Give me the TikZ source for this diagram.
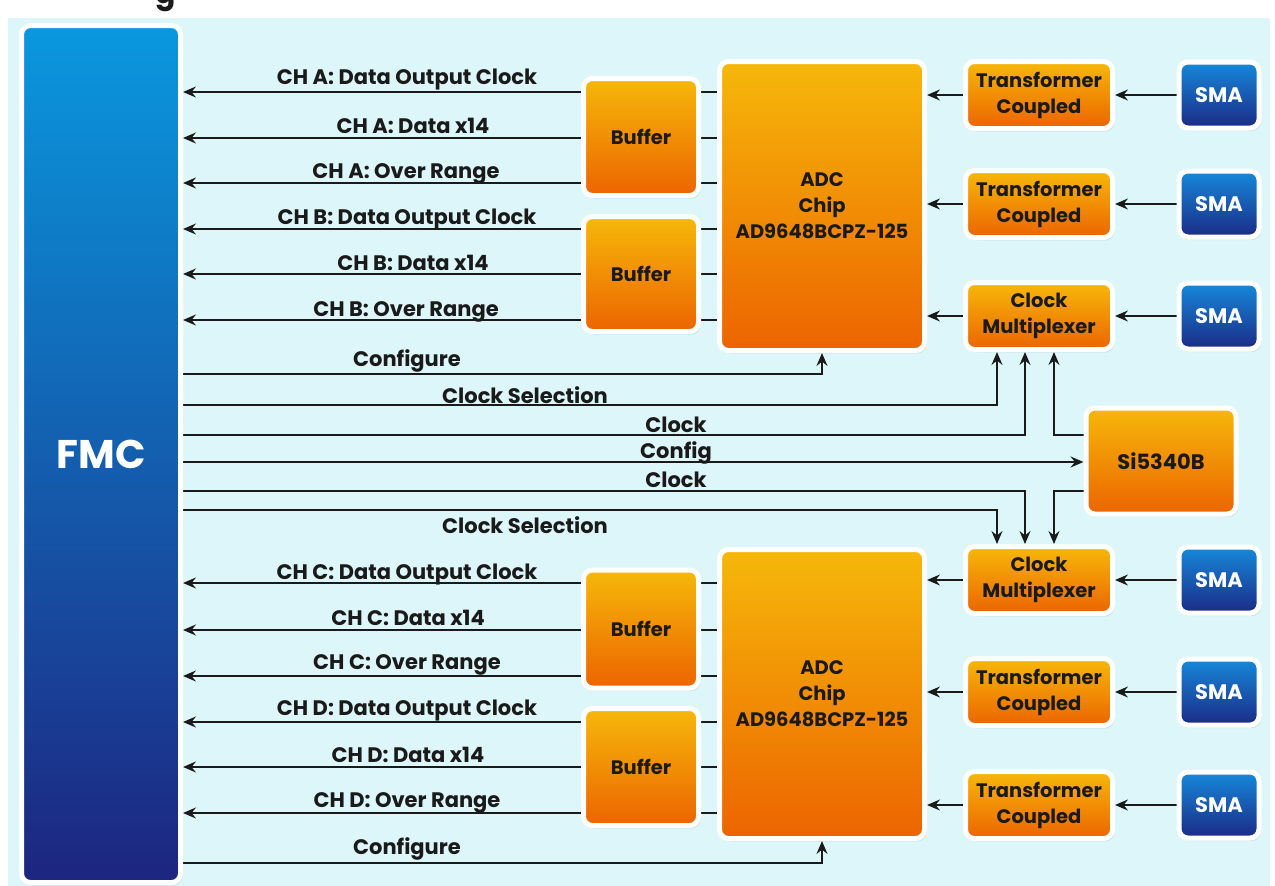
\documentclass[tikz,border=0pt]{standalone}
\usepackage{fontspec}
\setmainfont{Poppins}
\usetikzlibrary{arrows.meta,shadows}
\pgfdeclarelayer{bg}
\pgfdeclarelayer{lines}
\pgfsetlayers{bg,lines,main}

\definecolor{bgc}{HTML}{DDF6FA}
\definecolor{otop}{HTML}{F6B80A}
\definecolor{obot}{HTML}{EC6400}
\definecolor{btop}{HTML}{1689DA}
\definecolor{bbot}{HTML}{1B2A86}
\definecolor{ftop}{HTML}{0A98DE}
\definecolor{fbot}{HTML}{1D2580}
\definecolor{ink}{HTML}{1A1A1A}

\tikzset{
 box/.style={draw=white, line width=5pt, rounded corners=9pt, outer sep=2.5pt, inner sep=1pt,
   align=center, font=\bfseries\fontsize{19.5}{26}\selectfont, text=ink,
   drop shadow={opacity=0.15, shadow xshift=2pt, shadow yshift=-3pt}},
 obox/.style={box, top color=otop, bottom color=obot},
 sbox/.style={box, top color=btop, bottom color=bbot, text=white, font=\bfseries\fontsize{21}{26}\selectfont},
 conn/.style={draw=ink, line width=1.8pt},
 arr/.style={conn, -{Stealth[length=13pt,width=11pt,inset=4.5pt]}},
 lab/.style={font=\bfseries\fontsize{21}{24}\selectfont, text=ink, inner sep=0pt, anchor=base},
}

\begin{document}
\begin{tikzpicture}[x=1pt,y=-1pt]
\useasboundingbox (0,0) rectangle (1275,886);
\begin{pgfonlayer}{bg}
\fill[bgc] (8,18) rectangle (1270,886);
\end{pgfonlayer}
\begin{scope}
\clip (0,0) rectangle (1275,14);
\node[font=\bfseries\fontsize{30}{30}\selectfont, anchor=base, text=ink, inner sep=0pt] (gfrag) at (166,3) {g};
\end{scope}

% FMC
\node[box, top color=ftop, bottom color=fbot, text=white, minimum width=159pt, minimum height=857pt,
  font=\bfseries\fontsize{40}{44}\selectfont] (fmc) at (101,454) {FMC};

% upper half
\node[obox, minimum width=115pt, minimum height=117pt] (bufA) at (641,137) {Buffer};
\node[obox, minimum width=115pt, minimum height=115pt] (bufB) at (641,274) {Buffer};
\node[obox, minimum width=205pt, minimum height=289pt] (adc1) at (822,206) {ADC\\Chip\\AD9648BCPZ-125};
\node[obox, minimum width=147pt, minimum height=67pt] (tr1) at (1039,95) {Transformer\\Coupled};
\node[obox, minimum width=147pt, minimum height=67pt] (tr2) at (1039,204) {Transformer\\Coupled};
\node[obox, minimum width=147pt, minimum height=67pt] (mux1) at (1039,316) {Clock\\Multiplexer};
\node[sbox, minimum width=80pt, minimum height=66pt] (sma1) at (1219,95) {SMA};
\node[sbox, minimum width=80pt, minimum height=66pt] (sma2) at (1219,204) {SMA};
\node[sbox, minimum width=80pt, minimum height=66pt] (sma3) at (1219,316) {SMA};
\node[obox, minimum width=150pt, minimum height=106pt, font=\bfseries\fontsize{21}{26}\selectfont] (si) at (1161,461) {Si5340B};

% lower half
\node[obox, minimum width=147pt, minimum height=67pt] (mux2) at (1039,580) {Clock\\Multiplexer};
\node[obox, minimum width=147pt, minimum height=67pt] (tr3) at (1039,692) {Transformer\\Coupled};
\node[obox, minimum width=147pt, minimum height=67pt] (tr4) at (1039,805) {Transformer\\Coupled};
\node[sbox, minimum width=80pt, minimum height=66pt] (sma4) at (1219,580) {SMA};
\node[sbox, minimum width=80pt, minimum height=66pt] (sma5) at (1219,692) {SMA};
\node[sbox, minimum width=80pt, minimum height=66pt] (sma6) at (1219,805) {SMA};
\node[obox, minimum width=115pt, minimum height=118pt] (bufC) at (641,629) {Buffer};
\node[obox, minimum width=115pt, minimum height=117pt] (bufD) at (641,767) {Buffer};
\node[obox, minimum width=205pt, minimum height=289pt] (adc2) at (822,694) {ADC\\Chip\\AD9648BCPZ-125};

% labels
\node[lab] (l1) at (407,84) {CH A: Data Output Clock};
\node[lab] (l2) at (413,133) {CH A: Data x14};
\node[lab] (l3) at (406,178) {CH A: Over Range};
\node[lab] (l4) at (407,224) {CH B: Data Output Clock};
\node[lab] (l5) at (413,270) {CH B: Data x14};
\node[lab] (l6) at (406,316) {CH B: Over Range};
\node[lab] (l7) at (407,366) {Configure};
\node[lab] (l8) at (525,403) {Clock Selection};
\node[lab] (l9) at (676,432) {Clock};
\node[lab] (l10) at (676,458) {Config};
\node[lab] (l11) at (676,487) {Clock};
\node[lab] (l12) at (525,533) {Clock Selection};
\node[lab] (l13) at (407,579) {CH C: Data Output Clock};
\node[lab] (l14) at (408,625) {CH C: Data x14};
\node[lab] (l15) at (407,669) {CH C: Over Range};
\node[lab] (l16) at (407,715) {CH D: Data Output Clock};
\node[lab] (l17) at (408,762) {CH D: Data x14};
\node[lab] (l18) at (407,807) {CH D: Over Range};
\node[lab] (l19) at (407,854) {Configure};

\begin{pgfonlayer}{lines}
% buffers to FMC and stubs to ADC
\foreach \b/\a/\y in {bufA/adc1/92, bufA/adc1/138, bufA/adc1/183, bufB/adc1/229, bufB/adc1/274, bufB/adc1/320,
                      bufC/adc2/583, bufC/adc2/630, bufC/adc2/676, bufD/adc2/722, bufD/adc2/767, bufD/adc2/813}{
  \draw[arr] (\b.west |- 0,\y) -- (fmc.east |- 0,\y);
  \draw[conn] (\b.east |- 0,\y) -- (\a.west |- 0,\y);
}
% inputs
\foreach \s/\t/\a in {sma1/tr1/adc1, sma2/tr2/adc1, sma3/mux1/adc1, sma4/mux2/adc2, sma5/tr3/adc2, sma6/tr4/adc2}{
  \draw[arr] (\s.west) -- (\t.east);
  \draw[arr] (\t.west) -- (\a.east |- \t.west);
}
% configure
\draw[arr] (fmc.east |- 0,374) -| (adc1.south);
\draw[arr] (fmc.east |- 0,863) -| (adc2.south);
% clock selection and clocks
\draw[arr] (fmc.east |- 0,405) -| (mux1.south -| 997,0);
\draw[arr] (fmc.east |- 0,435) -| (mux1.south -| 1025,0);
\draw[arr] (si.west |- 0,435) -| (mux1.south -| 1054,0);
\draw[arr] (fmc.east |- 0,462) -- (si.west |- 0,462);
\draw[arr] (fmc.east |- 0,491) -| (mux2.north -| 1025,0);
\draw[arr] (si.west |- 0,491) -| (mux2.north -| 1054,0);
\draw[arr] (fmc.east |- 0,510) -| (mux2.north -| 997,0);
\end{pgfonlayer}
\end{tikzpicture}
\end{document}
